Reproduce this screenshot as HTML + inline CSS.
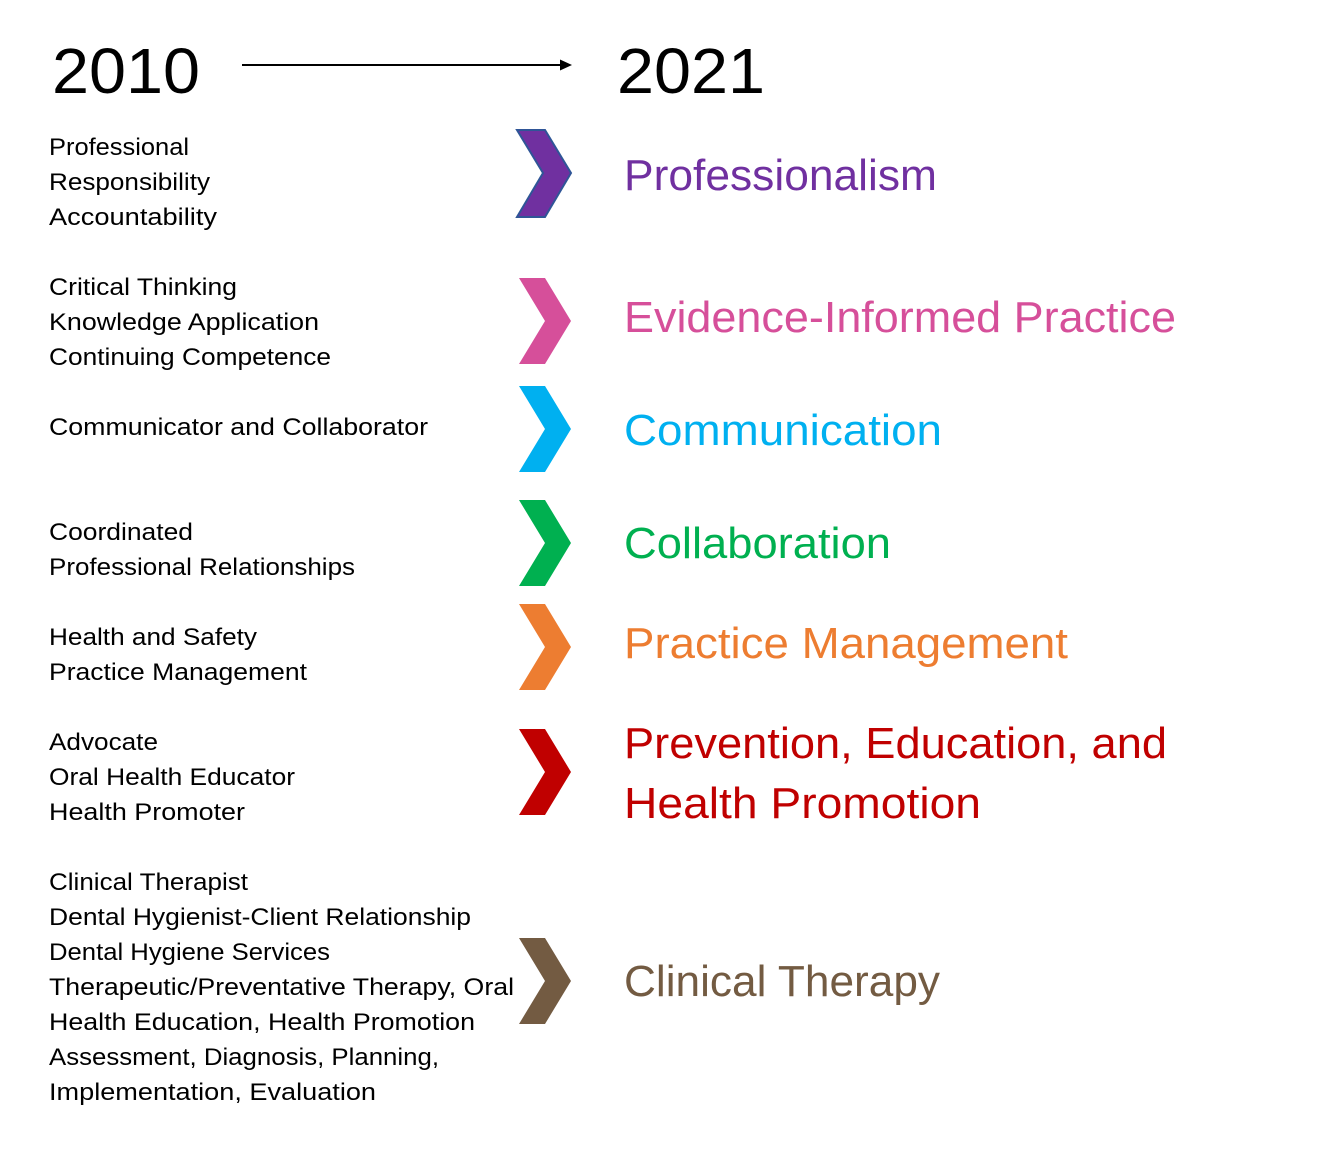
<!DOCTYPE html>
<html><head><meta charset="utf-8"><style>html,body{margin:0;padding:0;background:#fff}</style></head>
<body>
<svg width="1318" height="1166" xmlns="http://www.w3.org/2000/svg" font-family="Liberation Sans, sans-serif">
<text x="52" y="93" font-size="64" textLength="148" lengthAdjust="spacingAndGlyphs">2010</text>
<text x="617" y="93" font-size="64" textLength="148" lengthAdjust="spacingAndGlyphs">2021</text>
<line x1="242" y1="65" x2="562" y2="65" stroke="#000" stroke-width="2"/>
<polygon points="572,65 560,59.5 560,70.5" fill="#000"/>
<g font-size="24" fill="#000" lengthAdjust="spacingAndGlyphs">
<text x="49" y="155" textLength="140" lengthAdjust="spacingAndGlyphs">Professional</text>
<text x="49" y="190" textLength="161" lengthAdjust="spacingAndGlyphs">Responsibility</text>
<text x="49" y="225" textLength="168" lengthAdjust="spacingAndGlyphs">Accountability</text>
<text x="49" y="295" textLength="188" lengthAdjust="spacingAndGlyphs">Critical Thinking</text>
<text x="49" y="330" textLength="270" lengthAdjust="spacingAndGlyphs">Knowledge Application</text>
<text x="49" y="365" textLength="282" lengthAdjust="spacingAndGlyphs">Continuing Competence</text>
<text x="49" y="435" textLength="379" lengthAdjust="spacingAndGlyphs">Communicator and Collaborator</text>
<text x="49" y="540" textLength="144" lengthAdjust="spacingAndGlyphs">Coordinated</text>
<text x="49" y="575" textLength="306" lengthAdjust="spacingAndGlyphs">Professional Relationships</text>
<text x="49" y="645" textLength="208" lengthAdjust="spacingAndGlyphs">Health and Safety</text>
<text x="49" y="680" textLength="258" lengthAdjust="spacingAndGlyphs">Practice Management</text>
<text x="49" y="750" textLength="109" lengthAdjust="spacingAndGlyphs">Advocate</text>
<text x="49" y="785" textLength="246" lengthAdjust="spacingAndGlyphs">Oral Health Educator</text>
<text x="49" y="820" textLength="196" lengthAdjust="spacingAndGlyphs">Health Promoter</text>
<text x="49" y="890" textLength="199" lengthAdjust="spacingAndGlyphs">Clinical Therapist</text>
<text x="49" y="925" textLength="422" lengthAdjust="spacingAndGlyphs">Dental Hygienist-Client Relationship</text>
<text x="49" y="960" textLength="281" lengthAdjust="spacingAndGlyphs">Dental Hygiene Services</text>
<text x="49" y="995" textLength="465" lengthAdjust="spacingAndGlyphs">Therapeutic/Preventative Therapy, Oral</text>
<text x="49" y="1030" textLength="426" lengthAdjust="spacingAndGlyphs">Health Education, Health Promotion</text>
<text x="49" y="1065" textLength="390" lengthAdjust="spacingAndGlyphs">Assessment, Diagnosis, Planning,</text>
<text x="49" y="1100" textLength="327" lengthAdjust="spacingAndGlyphs">Implementation, Evaluation</text>
</g>
<polygon points="517,130 545,130 571,173 545,217 517,217 543,173" fill="#7030A0" stroke="#2F5597" stroke-width="2"/>
<polygon points="519,278 545,278 571,321 545,364 519,364 545,321" fill="#D64F9A"/>
<polygon points="519,386 545,386 571,429 545,472 519,472 545,429" fill="#00B0F0"/>
<polygon points="519,500 545,500 571,543 545,586 519,586 545,543" fill="#00B050"/>
<polygon points="519,604 545,604 571,647 545,690 519,690 545,647" fill="#ED7D31"/>
<polygon points="519,729 545,729 571,772 545,815 519,815 545,772" fill="#C00000"/>
<polygon points="519,938 545,938 571,981 545,1024 519,1024 545,981" fill="#735B42"/>
<g font-size="44">
<text x="624" y="190" fill="#7030A0" textLength="313" lengthAdjust="spacingAndGlyphs">Professionalism</text>
<text x="624" y="332" fill="#D64F9A" textLength="552" lengthAdjust="spacingAndGlyphs">Evidence-Informed Practice</text>
<text x="624" y="445" fill="#00B0F0" textLength="318" lengthAdjust="spacingAndGlyphs">Communication</text>
<text x="624" y="558" fill="#00B050" textLength="267" lengthAdjust="spacingAndGlyphs">Collaboration</text>
<text x="624" y="658" fill="#ED7D31" textLength="444" lengthAdjust="spacingAndGlyphs">Practice Management</text>
<text x="624" y="758" fill="#C00000" textLength="543" lengthAdjust="spacingAndGlyphs">Prevention, Education, and</text>
<text x="624" y="818" fill="#C00000" textLength="357" lengthAdjust="spacingAndGlyphs">Health Promotion</text>
<text x="624" y="996" fill="#735B42" textLength="316" lengthAdjust="spacingAndGlyphs">Clinical Therapy</text>
</g>
</svg>
</body></html>
